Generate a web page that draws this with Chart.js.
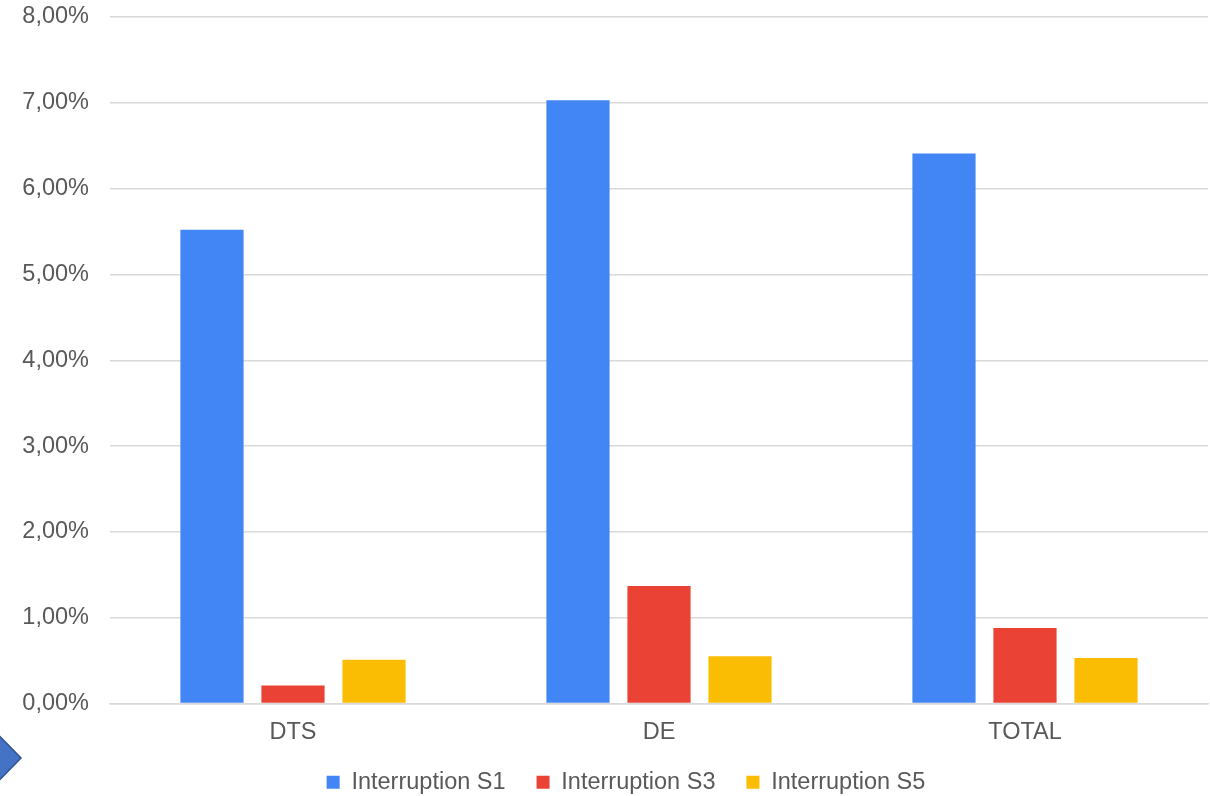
<!DOCTYPE html>
<html>
<head>
<meta charset="utf-8">
<script src="https://cdn.jsdelivr.net/npm/chart.js@4/dist/chart.umd.min.js"></script>
<style>
	html, body { margin: 0; padding: 0; background: #fff; }
	#wrap { width: 1210px; height: 796px; position: relative; }
</style>
</head>
<body>
<div id="wrap"><canvas id="interruptionsChart"></canvas></div>
<script>
	// Data (percent).
	var categories = ['DTS', 'DE', 'TOTAL'];
	var seriesNames = ['Interruption S1', 'Interruption S3', 'Interruption S5'];
	var s1Values = [5.52, 7.03, 6.41];
	var s3Values = [0.21, 1.37, 0.88];
	var s5Values = [0.51, 0.55, 0.53];
	var seriesColors = ['#4285F4', '#EA4335', '#FBBC04'];

	var textColor = '#595959';
	var fontFamily = '"Liberation Sans", Arial, sans-serif';
	var fontSize = 23.5;

	function fmtPct(v) {
		return v.toFixed(2).replace('.', ',') + '%';
	}

	// Little blue chevron cut off at the bottom-left corner.
	var cornerArrow = {
		id: 'cornerArrow',
		afterDraw: function(chart) {
			var ctx = chart.ctx;
			ctx.save();
			ctx.beginPath();
			ctx.moveTo(-20, 716);
			ctx.lineTo(21, 758);
			ctx.lineTo(-20, 800);
			ctx.closePath();
			ctx.fillStyle = '#4472C4';
			ctx.fill();
			ctx.lineWidth = 1.5;
			ctx.strokeStyle = '#2F528F';
			ctx.stroke();
			ctx.restore();
		}
	};

	// legend sits a bit right of the canvas centre
	var legendNudge = {
		id: 'legendNudge',
		afterLayout: function(chart) {
			if (chart.legend) {
				chart.legend.left += 44;
			}
		}
	};

	var datasets = [s1Values, s3Values, s5Values].map(function(vals, i) {
		return {
			label: seriesNames[i],
			data: vals,
			backgroundColor: seriesColors[i],
			borderWidth: 0,
			categoryPercentage: 0.664,
			barPercentage: 0.78
		};
	});

	var chart = new Chart(document.getElementById('interruptionsChart'), {
		type: 'bar',
		data: { labels: categories, datasets: datasets },
		plugins: [cornerArrow, legendNudge],
		options: {
			responsive: true,
			maintainAspectRatio: false,
			animation: false,
			layout: { padding: { top: 17, right: 2, left: 0, bottom: -8 } },
			plugins: {
				tooltip: { enabled: false },
				legend: {
					position: 'bottom',
					labels: {
						color: textColor,
						font: { family: fontFamily, size: fontSize },
						boxWidth: 13,
						boxHeight: 13,
						padding: 31
					}
				}
			},
			scales: {
				x: {
					afterFit: function(scale) { scale.height = 36; },
					grid: { display: false, drawTicks: false },
					border: { display: true, color: '#d9d9d9', width: 1.5 },
					ticks: {
						color: textColor,
						font: { family: fontFamily, size: fontSize },
						padding: 15
					}
				},
				y: {
					min: 0,
					max: 8,
					afterFit: function(scale) {
						scale.width = 110;
						scale.paddingTop = 0;
						scale.paddingBottom = 0;
					},
					grid: { color: '#d9d9d9', lineWidth: 1.5, drawTicks: false },
					border: { display: false },
					ticks: {
						stepSize: 1,
						color: textColor,
						font: { family: fontFamily, size: fontSize },
						padding: 21,
						callback: function(v) { return fmtPct(v); }
					}
				}
			}
		}
	});
</script>
</body>
</html>
